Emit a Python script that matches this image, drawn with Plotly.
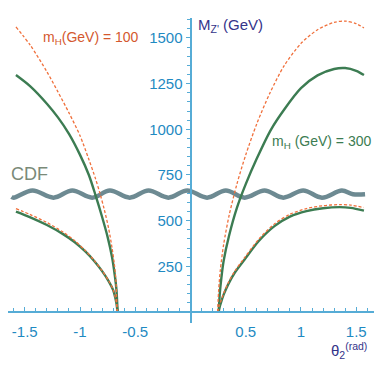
import plotly.graph_objects as go

# ── Design tokens ──────────────────────────────────────────────────────────
C = {
    'green':  '#3c7c52',
    'orange': '#f0703c',
    'wave':   '#6d8a92',
    'axis':   '#56acd6',
    'tick':   '#1f8ac2',
    'navy':   '#34348a',
    'red':    '#d4582e',
    'cdf':    '#7a8a78',
}
FONT = "Liberation Sans, Arial, sans-serif"

# ── Data ───────────────────────────────────────────────────────────────────
# left branch, steep curves
left_hi_x_100 = [-1.58, -1.45, -1.30, -1.20, -1.10, -1.00, -0.92, -0.86, -0.82, -0.78,
                 -0.74, -0.71, -0.69, -0.675, -0.665]
left_hi_y_100 = [1560, 1460, 1315, 1205, 1090, 965, 835, 730, 650, 560,
                 455, 350, 265, 170, 0]
left_hi_x_300 = [-1.58, -1.45, -1.30, -1.20, -1.10, -1.00, -0.92, -0.86, -0.80, -0.75,
                 -0.71, -0.685, -0.67, -0.66]
left_hi_y_300 = [1297, 1235, 1140, 1065, 975, 860, 750, 640, 520, 410,
                 300, 200, 120, 0]
# left branch, low curves
left_lo_x_300 = [-1.58, -1.45, -1.30, -1.15, -1.05, -0.95, -0.87, -0.80, -0.74, -0.70,
                 -0.68, -0.67, -0.66]
left_lo_y_300 = [549, 518, 476, 425, 383, 330, 278, 224, 168, 120, 75, 45, 0]
left_lo_x_100 = [-1.58, -1.45, -1.30, -1.15, -1.05, -0.95, -0.87, -0.80, -0.74, -0.70,
                 -0.68, -0.67, -0.662]
left_lo_y_100 = [566, 533, 490, 436, 391, 335, 281, 226, 170, 122, 77, 46, 0]
# right branch, high curves
right_hi_x_100 = [0.245, 0.255, 0.27, 0.30, 0.35, 0.42, 0.50, 0.60, 0.72, 0.85, 1.00,
                  1.15, 1.30, 1.40, 1.50, 1.57]
right_hi_y_100 = [0, 120, 230, 370, 530, 700, 860, 1030, 1200, 1350, 1470,
                  1545, 1585, 1592, 1578, 1555]
right_hi_x_300 = [0.255, 0.265, 0.28, 0.30, 0.35, 0.42, 0.50, 0.60, 0.73, 0.85, 1.00,
                  1.15, 1.30, 1.40, 1.50, 1.57]
right_hi_y_300 = [0, 100, 190, 280, 420, 570, 700, 840, 1000, 1110, 1225,
                  1295, 1330, 1335, 1320, 1297]
# right branch, low curves
right_lo_x_300 = [0.255, 0.265, 0.28, 0.30, 0.34, 0.40, 0.49, 0.62, 0.76, 0.90, 1.05,
                  1.20, 1.35, 1.45, 1.57]
right_lo_y_300 = [0, 30, 60, 95, 150, 215, 288, 390, 470, 522, 552, 568, 574, 570, 555]
right_lo_x_100 = [0.245, 0.26, 0.28, 0.30, 0.34, 0.40, 0.49, 0.62, 0.76, 0.90, 1.05,
                  1.20, 1.35, 1.45, 1.57]
right_lo_y_100 = [0, 35, 68, 102, 158, 223, 298, 400, 482, 535, 566, 582, 588, 585, 572]
# CDF exclusion (drawn as a wavy band)
cdf_x = [-1.62, -1.60, -1.43, -1.24, -1.07, -0.89, -0.73, -0.55, -0.38, -0.20,
         -0.03, 0.15, 0.32, 0.49, 0.67, 0.84, 1.02, 1.19, 1.37, 1.47, 1.58]
cdf_y = [630, 626, 665, 626, 665, 626, 665, 626, 665, 626,
         665, 626, 665, 626, 665, 626, 665, 626, 665, 645, 645]

x_ticks = [-1.5, -1, -0.5, 0.5, 1, 1.5]
x_labels = ['-1.5', '-1', '-0.5', '0.5', '1', '1.5']
y_ticks = [250, 500, 750, 1000, 1250, 1500]

X_RANGE = [-1.652, 1.661]
Y_RANGE = [-60, 1609]

fig = go.Figure()

fig.add_trace(go.Scatter(x=cdf_x, y=cdf_y, mode='lines',
                         line=dict(color=C['wave'], width=4.5, shape='spline', smoothing=1.0)))

for xs, ys in [(left_hi_x_300, left_hi_y_300), (left_lo_x_300, left_lo_y_300),
               (right_hi_x_300, right_hi_y_300), (right_lo_x_300, right_lo_y_300)]:
    fig.add_trace(go.Scatter(x=xs, y=ys, mode='lines',
                             line=dict(color=C['green'], width=2.4, shape='spline',
                                       smoothing=0.8)))

for xs, ys in [(left_hi_x_100, left_hi_y_100), (left_lo_x_100, left_lo_y_100),
               (right_hi_x_100, right_hi_y_100), (right_lo_x_100, right_lo_y_100)]:
    fig.add_trace(go.Scatter(x=xs, y=ys, mode='lines',
                             line=dict(color=C['orange'], width=1.3, shape='spline',
                                       smoothing=0.8, dash='3px,2px')))

# ── Text labels ────────────────────────────────────────────────────────────
fig.add_annotation(x=-1.35, y=1500, text='m<sub>H</sub>(GeV) = 100', showarrow=False,
                   xanchor='left', font=dict(family=FONT, size=14, color=C['red']))
fig.add_annotation(x=0.72, y=930, text='m<sub>H</sub> (GeV) = 300', showarrow=False,
                   xanchor='left', font=dict(family=FONT, size=14, color=C['green']))
fig.add_annotation(x=-1.64, y=755, text='CDF', showarrow=False,
                   xanchor='left', font=dict(family=FONT, size=18, color=C['cdf']))
fig.add_annotation(x=0.05, y=1570, text="M<sub>Z'</sub> (GeV)", showarrow=False,
                   xanchor='left', font=dict(family=FONT, size=15, color=C['navy']))
fig.add_annotation(x=1.25, xref='x', y=-0.09, yref='paper', yanchor='middle',
                   text='θ<sub>2</sub><sup>(rad)</sup>', showarrow=False,
                   xanchor='left', font=dict(family=FONT, size=15, color=C['navy']))

y_pos = -X_RANGE[0] / (X_RANGE[1] - X_RANGE[0])
x_pos = -Y_RANGE[0] / (Y_RANGE[1] - Y_RANGE[0])

# the page body adds an 8px offset, so the margins are shifted to compensate
fig.update_layout(
    width=382, height=382,
    plot_bgcolor='white', paper_bgcolor='white',
    showlegend=False,
    margin=dict(l=0, r=16, t=10, b=67),
    xaxis=dict(
        range=X_RANGE, anchor='free', position=x_pos, automargin=False,
        showgrid=False, zeroline=False,
        showline=True, linecolor=C['axis'], linewidth=2,
        tickvals=x_ticks, ticktext=x_labels,
        ticks='inside', ticklen=4, tickcolor=C['axis'], tickwidth=1,
        ticklabelstandoff=6,
        minor=dict(dtick=0.1, tick0=0, ticks='inside', ticklen=3, tickcolor=C['axis']),
        tickfont=dict(family=FONT, size=15, color=C['tick']),
    ),
    yaxis=dict(
        range=Y_RANGE, anchor='free', position=y_pos, automargin=False,
        showgrid=False, zeroline=False,
        showline=True, linecolor=C['axis'], linewidth=2,
        tickvals=y_ticks,
        ticks='outside', ticklen=4, tickcolor=C['axis'], tickwidth=1,
        minor=dict(tickvals=list(range(50, 1601, 50)), ticks='outside', ticklen=3,
                   tickcolor=C['axis']),
        tickfont=dict(family=FONT, size=15, color=C['tick']),
    ),
)

fig.write_html("out.html")
